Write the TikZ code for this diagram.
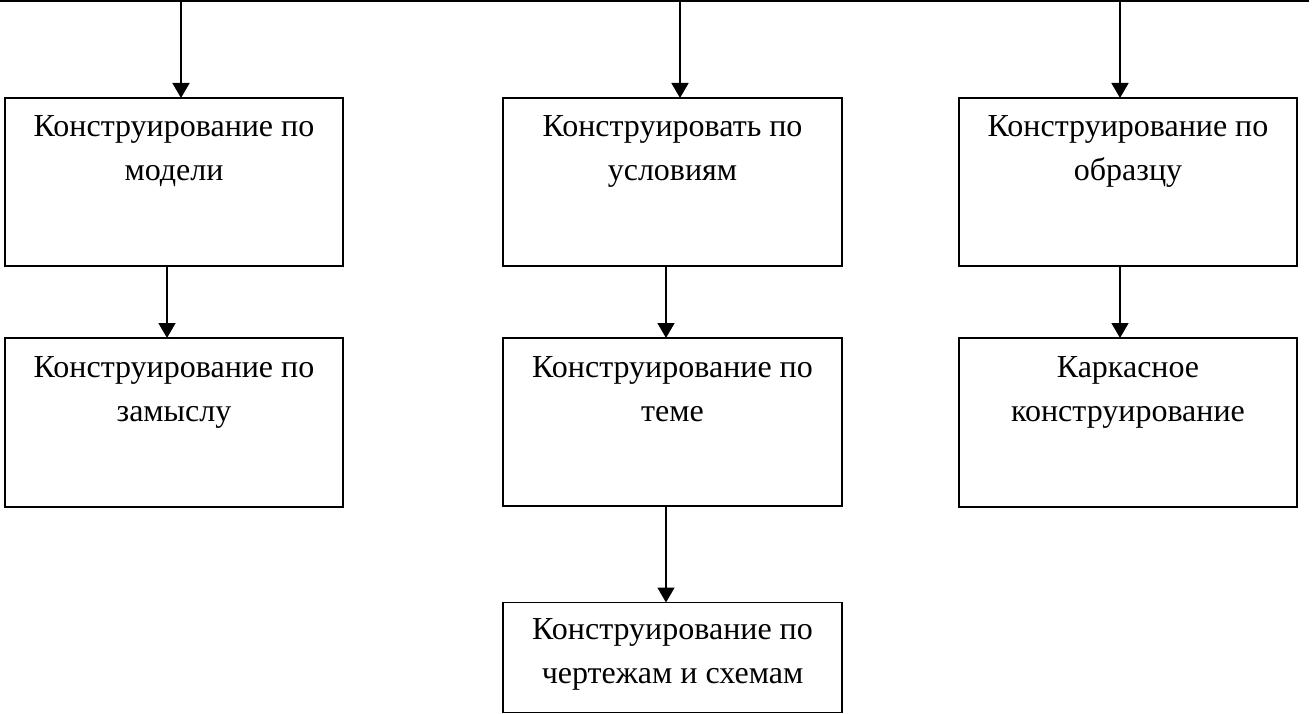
\documentclass[tikz,border=0pt]{standalone}
\usepackage{fontspec}
\setmainfont{Liberation Serif}
\usetikzlibrary{arrows.meta,calc}
\tikzset{
  box/.style={draw, line width=1.9pt, rectangle, inner sep=0pt, outer sep=0pt, minimum width=338pt},
  txt/.style={anchor=base, align=center, inner sep=0pt, font=\fontsize{32}{44}\selectfont},
  arr/.style={line width=1.6pt, -{Triangle[width=17pt,length=15pt]}}
}
\begin{document}
\begin{tikzpicture}[x=1pt,y=-1pt]
\useasboundingbox (0,0) rectangle (1312,714);
% top (cut-off) box
\node[box, minimum width=1307pt, minimum height=100pt] (top) at (654.5,-48.6) {};
% boxes
\node[box, minimum height=168pt] (b1) at (174,182) {};
\node[box, minimum width=339pt, minimum height=168pt] (b2) at (672.5,182) {};
\node[box, minimum height=168pt] (b3) at (1128,182) {};
\node[box, minimum height=169pt] (b4) at (174,422.5) {};
\node[box, minimum width=339pt, minimum height=168pt] (b5) at (672.5,422) {};
\node[box, minimum height=169pt] (b6) at (1128,422.5) {};
\node[box, minimum width=339pt, minimum height=110pt] (b7) at (672.5,657.5) {};
% texts (base anchor = last line)
\node[txt] (t1) at ($(b1.north)+(0,83)$) {Конструирование по\\модели};
\node[txt] (t2) at ($(b2.north)+(0,83)$) {Конструировать по\\условиям};
\node[txt] (t3) at ($(b3.north)+(0,83)$) {Конструирование по\\образцу};
\node[txt] (t4) at ($(b4.north)+(0,83)$) {Конструирование по\\замыслу};
\node[txt] (t5) at ($(b5.north)+(0,83)$) {Конструирование по\\теме};
\node[txt] (t6) at ($(b6.north)+(0,83)$) {Каркасное\\конструирование};
\node[txt] (t7) at ($(b7.north)+(0,81)$) {Конструирование по\\чертежам и схемам};
% connectors
\coordinate (x1) at (181,0);
\coordinate (x2) at (680,0);
\coordinate (x3) at (1120,0);
\coordinate (x4) at (167,0);
\coordinate (x5) at (666,0);
\draw[arr] (top.south -| x1) -- (b1.north -| x1);
\draw[arr] (top.south -| x2) -- (b2.north -| x2);
\draw[arr] (top.south -| x3) -- (b3.north -| x3);
\draw[arr] (b1.south -| x4) -- (b4.north -| x4);
\draw[arr] (b2.south -| x5) -- (b5.north -| x5);
\draw[arr] (b3.south -| x3) -- (b6.north -| x3);
\draw[arr] (b5.south -| x5) -- (b7.north -| x5);
\end{tikzpicture}
\end{document}
